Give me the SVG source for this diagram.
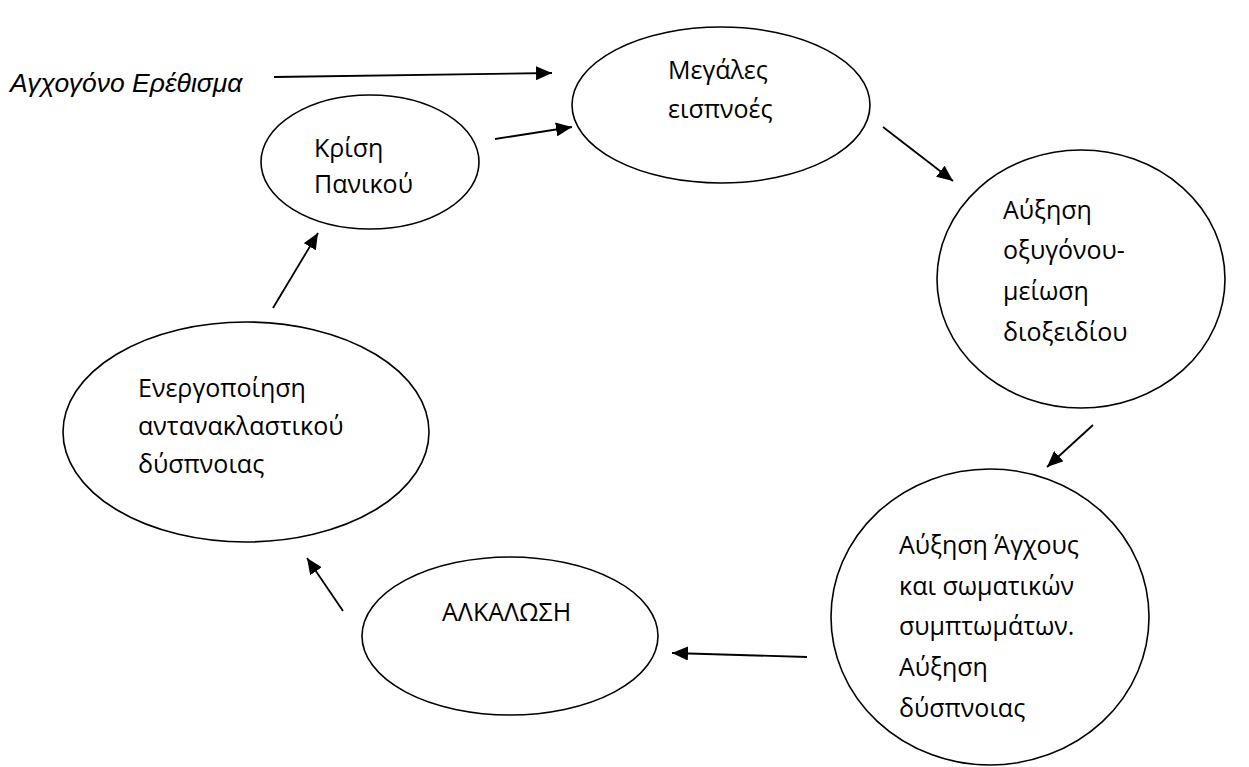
<svg xmlns="http://www.w3.org/2000/svg" width="1249" height="767" viewBox="0 0 1249 767">
<style>
.n{fill:#fff;stroke:#000;stroke-width:1.6}
.t{font-family:"Open Sans","Noto Sans",sans-serif;font-size:25px;fill:#000}
.c{stroke:#000;stroke-width:1.8;fill:none;marker-end:url(#ah)}
.i{font-family:"Liberation Sans",Arial,sans-serif;font-style:italic;font-size:26.5px;fill:#000}
</style>
<defs>
<marker id="ah" viewBox="0 0 16 14" refX="16" refY="7" markerWidth="16" markerHeight="14" markerUnits="userSpaceOnUse" orient="auto">
<path d="M0,0 L16,7 L0,14 z" fill="#000"/>
</marker>
</defs>
<rect width="1249" height="767" fill="#fff"/>
<g id="stimulus"><text class="i" x="10" y="92">Αγχογόνο Ερέθισμα</text></g>
<g id="n1"><ellipse class="n" cx="721" cy="105" rx="149" ry="78"/>
<text class="t" x="668" y="79">Μεγάλες</text><text class="t" x="668" y="118">εισπνοές</text></g>
<g id="n2"><ellipse class="n" cx="1081" cy="279" rx="144" ry="129"/>
<text class="t" x="1003" y="219">Αύξηση</text><text class="t" x="1003" y="259">οξυγόνου-</text><text class="t" x="1003" y="300">μείωση</text><text class="t" x="1003" y="341">διοξειδίου</text></g>
<g id="n3"><ellipse class="n" cx="990" cy="617" rx="159" ry="148"/>
<text class="t" x="899" y="554">Αύξηση Άγχους</text><text class="t" x="899" y="595">και σωματικών</text><text class="t" x="899" y="635">συμπτωμάτων.</text><text class="t" x="899" y="676">Αύξηση</text><text class="t" x="899" y="717">δύσπνοιας</text></g>
<g id="n4"><ellipse class="n" cx="510" cy="636" rx="148" ry="79"/>
<text class="t" x="442" y="621">ΑΛΚΑΛΩΣΗ</text></g>
<g id="n5"><ellipse class="n" cx="246" cy="432" rx="183" ry="110"/>
<text class="t" x="138" y="397">Ενεργοποίηση</text><text class="t" x="138" y="435">αντανακλαστικού</text><text class="t" x="138" y="473">δύσπνοιας</text></g>
<g id="n6"><ellipse class="n" cx="370" cy="162" rx="109" ry="67"/>
<text class="t" x="314" y="157">Κρίση</text><text class="t" x="314" y="193">Πανικού</text></g>
<g id="connectors">
<line class="c" x1="274" y1="77" x2="552" y2="73"/>
<line class="c" x1="495" y1="139" x2="572" y2="127"/>
<line class="c" x1="883" y1="127" x2="953" y2="181"/>
<line class="c" x1="1093" y1="425" x2="1047" y2="467"/>
<line class="c" x1="807" y1="657" x2="672" y2="653"/>
<line class="c" x1="343" y1="611" x2="307" y2="558"/>
<line class="c" x1="273" y1="308" x2="318" y2="233"/>
</g>
</svg>
